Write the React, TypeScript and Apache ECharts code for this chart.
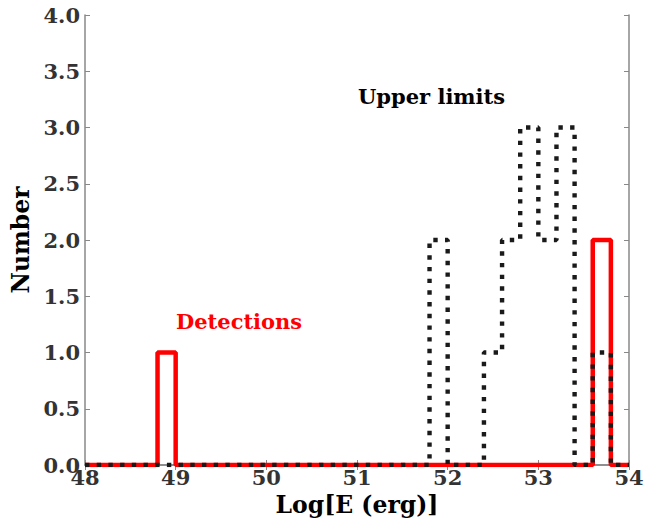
import React, { useEffect, useRef } from "react";
import * as echarts from "echarts";

const binEdges: number[] = [
  48.0, 48.2, 48.4, 48.6, 48.8, 49.0, 49.2, 49.4, 49.6, 49.8,
  50.0, 50.2, 50.4, 50.6, 50.8, 51.0, 51.2, 51.4, 51.6, 51.8,
  52.0, 52.2, 52.4, 52.6, 52.8, 53.0, 53.2, 53.4, 53.6, 53.8, 54.0,
];
const detections: number[] = [
  0, 0, 0, 0, 1, 0, 0, 0, 0, 0,
  0, 0, 0, 0, 0, 0, 0, 0, 0, 0,
  0, 0, 0, 0, 0, 0, 0, 0, 2, 0,
];
const upperLimits: number[] = [
  0, 0, 0, 0, 0, 0, 0, 0, 0, 0,
  0, 0, 0, 0, 0, 0, 0, 0, 0, 2,
  0, 0, 1, 2, 3, 2, 3, 0, 1, 0,
];
const yTicks: number[] = [0, 0.5, 1, 1.5, 2, 2.5, 3, 3.5, 4];

function stepData(counts: number[]): number[][] {
  const pts: number[][] = [];
  counts.forEach((c, i) => {
    pts.push([binEdges[i], c]);
    pts.push([binEdges[i + 1], c]);
  });
  return pts;
}

const FONT = "DejaVu Serif";

export default function App() {
  const ref = useRef<HTMLDivElement>(null);
  useEffect(() => {
    if (!ref.current) return;
    const chart = echarts.init(ref.current, null, { renderer: "svg" });
    const axisLine = { show: true, lineStyle: { color: "#888888", width: 1.5 } };
    const axisTick = { show: true, inside: true, length: 5, lineStyle: { color: "#888888", width: 1 } };
    const labelStyle = {
      fontFamily: FONT,
      fontWeight: "bold" as const,
      fontSize: 21,
      color: "#333333",
    };
    chart.setOption({
      animation: false,
      backgroundColor: "#ffffff",
      grid: { left: 85, right: 41, top: 15, bottom: 53, containLabel: false, outerBoundsMode: "none" },
      xAxis: [
        {
          type: "value",
          min: binEdges[0],
          max: binEdges[binEdges.length - 1],
          interval: 1,
          position: "bottom",
          name: "Log[E (erg)]",
          nameLocation: "middle",
          nameGap: 25,
          nameTextStyle: { fontFamily: FONT, fontWeight: "bold", fontSize: 23.5, color: "#000000" },
          axisLine,
          axisTick,
          axisLabel: { ...labelStyle, margin: 2 },
          splitLine: { show: false },
        },
        {
          type: "value",
          min: binEdges[0],
          max: binEdges[binEdges.length - 1],
          interval: 1,
          position: "top",
          axisLine,
          axisTick,
          axisLabel: { show: false },
          splitLine: { show: false },
        },
      ],
      yAxis: [
        {
          type: "value",
          min: yTicks[0],
          max: yTicks[yTicks.length - 1],
          interval: 0.5,
          position: "left",
          name: "Number",
          nameLocation: "middle",
          nameGap: 44,
          nameTextStyle: { fontFamily: FONT, fontWeight: "bold", fontSize: 23.5, color: "#000000" },
          axisLine,
          axisTick,
          axisLabel: { ...labelStyle, margin: 5, formatter: (v: number) => v.toFixed(1) },
          splitLine: { show: false },
        },
        {
          type: "value",
          min: yTicks[0],
          max: yTicks[yTicks.length - 1],
          interval: 0.5,
          position: "right",
          axisLine,
          axisTick,
          axisLabel: { show: false },
          splitLine: { show: false },
        },
      ],
      series: [
        {
          name: "Detections",
          type: "line",
          data: stepData(detections),
          symbol: "none",
          lineStyle: { color: "#ff0000", width: 4.5 },
          z: 2,
        },
        {
          name: "Upper limits",
          type: "line",
          data: stepData(upperLimits),
          symbol: "none",
          lineStyle: { color: "#1a1a1a", width: 4.4, type: [4.4, 7.3] },
          z: 3,
        },
      ],
      graphic: [
        {
          type: "text",
          left: 358,
          top: 86,
          style: { text: "Upper limits", fontFamily: FONT, fontWeight: "bold", fontSize: 21, fill: "#000000" },
        },
        {
          type: "text",
          left: 176,
          top: 311,
          style: { text: "Detections", fontFamily: FONT, fontWeight: "bold", fontSize: 21, fill: "#ff0000" },
        },
      ],
    });
    return () => chart.dispose();
  }, []);
  return <div ref={ref} style={{ width: 670, height: 518, position: "absolute", left: 0, top: 0 }} />;
}
